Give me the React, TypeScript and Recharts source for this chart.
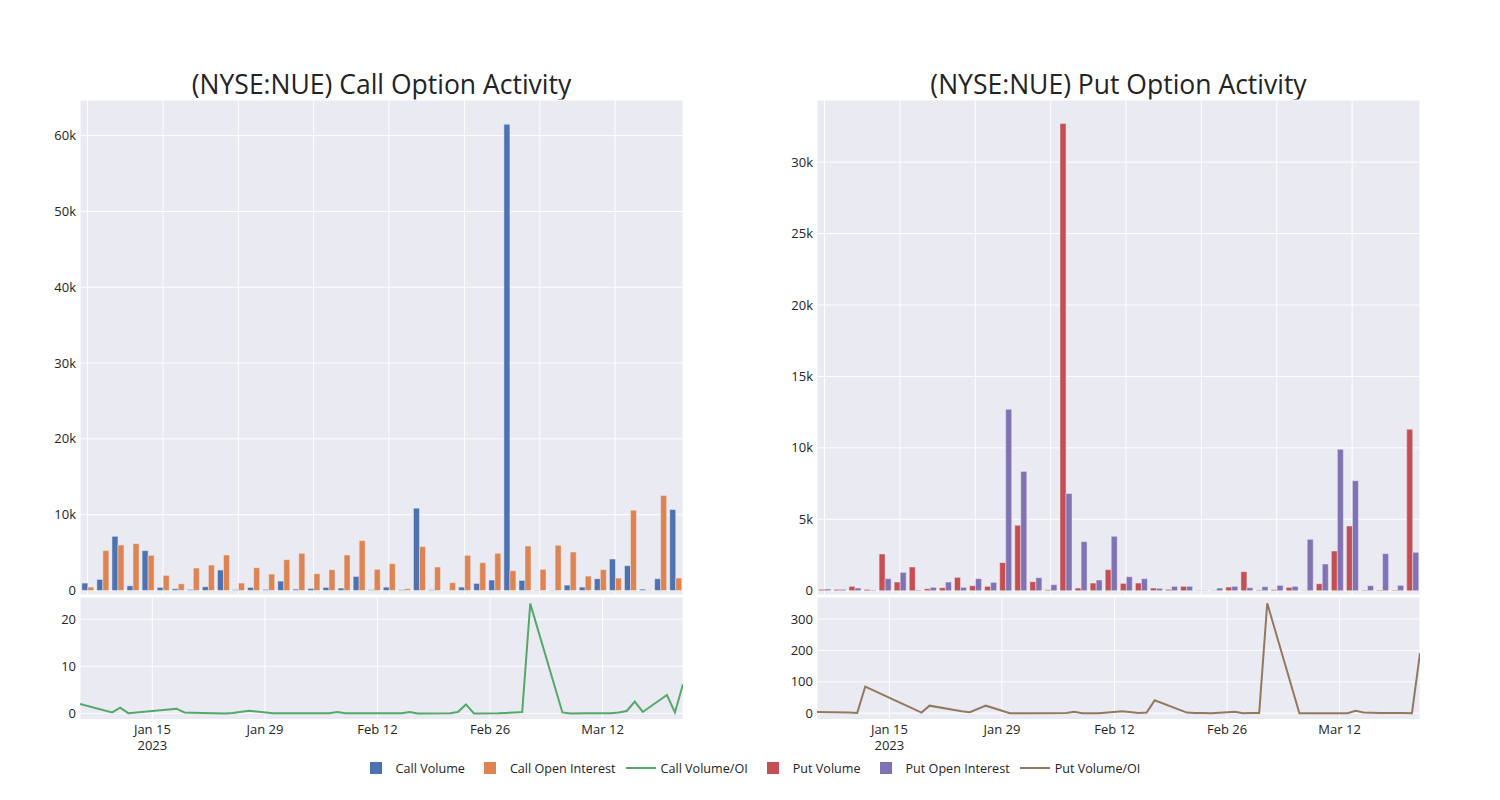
import React from 'react';
import { BarChart, Bar, LineChart, Line, XAxis, YAxis, CartesianGrid } from 'recharts';

const dates = [
  '2023-01-06', '2023-01-10', '2023-01-11', '2023-01-12', '2023-01-18', '2023-01-19', '2023-01-20', '2023-01-24',
  '2023-01-25', '2023-01-27', '2023-01-30', '2023-02-01', '2023-02-06', '2023-02-07', '2023-02-08', '2023-02-10',
  '2023-02-13', '2023-02-15', '2023-02-16', '2023-02-17', '2023-02-21', '2023-02-22', '2023-02-23', '2023-02-24',
  '2023-02-27', '2023-02-28', '2023-03-01', '2023-03-02', '2023-03-03', '2023-03-07', '2023-03-08', '2023-03-10',
  '2023-03-13', '2023-03-14', '2023-03-15', '2023-03-16', '2023-03-17', '2023-03-20', '2023-03-21', '2023-03-22',
];

const callVolume = [
  970, 1455, 7140, 617, 5250, 400, 220, 130, 485, 2690,
  90, 400, 130, 1235, 175, 265, 400, 310, 1850, 90,
  440, 90, 10850, 90, 20, 440, 925, 1370, 61500, 1325,
  50, 50, 705, 440, 1545, 4145, 3265, 175, 1545, 10670,
];
const callOpenInterest = [
  440, 5250, 6000, 6170, 4630, 1985, 880, 2955, 3350, 4675,
  970, 3000, 2160, 4060, 4900, 2205, 2735, 4675, 6570, 2780,
  3530, 220, 5780, 3090, 1015, 4630, 3660, 4900, 2600, 5865,
  2780, 5955, 5070, 1895, 2735, 1630, 10585, 40, 12530, 1630,
];
const callRatio = [
  2.0, 0.2, 1.2, 0.05, 1.0, 0.2, 0.15, 0.0, 0.1, 0.55,
  0.05, 0.05, 0.05, 0.3, 0.02, 0.03, 0.05, 0.05, 0.3, 0.0,
  0.05, 0.3, 1.9, 0.0, 0.02, 0.1, 0.2, 0.3, 23.3, 0.2,
  0.0, 0.02, 0.05, 0.2, 0.5, 2.5, 0.3, 3.9, 0.2, 6.2,
];

const putVolume = [
  93, 93, 304, 93, 2570, 607, 1660, 140, 210, 935,
  350, 304, 1963, 4580, 631, 70, 32700, 187, 537, 1472,
  514, 537, 187, 93, 304, 23, 23, 257, 1332, 47,
  70, 234, 23, 490, 2780, 4532, 47, 47, 47, 11300,
];
const putOpenInterest = [
  117, 93, 187, 47, 841, 1285, 47, 234, 607, 234,
  841, 584, 12700, 8350, 911, 420, 6800, 3435, 748, 3808,
  981, 841, 163, 304, 304, 23, 187, 304, 210, 280,
  374, 304, 3598, 1869, 9900, 7700, 350, 2594, 374, 2687,
];
const putRatio = [
  4, 2, 1, 85, 14, 2, 24, 6, 3, 24,
  0, 0, 0.5, 5, 0, 0, 6, 1, 2, 41,
  2, 1, 0.5, 0, 5, 0, 0.5, 1, 350, 0,
  0, 0, 0, 8, 2, 1.5, 1, 0.5, 0, 191,
];

const xTickDates = ['2023-01-15', '2023-01-29', '2023-02-12', '2023-02-26', '2023-03-12'];
const xTickLabels = ['Jan 15', 'Jan 29', 'Feb 12', 'Feb 26', 'Mar 12'];
const xTickSubLabels = ['2023', '', '', '', ''];

const callBarTicks = [0, 10000, 20000, 30000, 40000, 50000, 60000];
const putBarTicks = [0, 5000, 10000, 15000, 20000, 25000, 30000];
const callRatioTicks = [0, 10, 20];
const putRatioTicks = [0, 100, 200, 300];

const callBarDomain = [-600, 64700];
const putBarDomain = [-300, 34350];
const callRatioDomain = [-1.3, 24.7];
const putRatioDomain = [-20, 370];

const COLORS = {
  callVol: '#4C72B0',
  callOI: '#DD8452',
  callRatio: '#55A868',
  putVol: '#C44E52',
  putOI: '#8172B3',
  putRatio: '#937860',
  bg: '#EAEAF2',
  text: '#242424',
};
const FONT = '"Open Sans", "DejaVu Sans", sans-serif';

const toTs = (d: string) => Date.parse(d + 'T00:00:00Z');

const kFormat = (v: number) => (v === 0 ? '0' : `${v / 1000}k`);

const tickStyle = { fontSize: 13, fill: COLORS.text, fontFamily: FONT };

const EmptyTick = () => <g />;

const DateTick = (props: any) => {
  const { x, y, payload } = props;
  const idx = xTickDates.findIndex((d) => toTs(d) === payload.value);
  const label = idx >= 0 ? xTickLabels[idx] : '';
  const sub = idx >= 0 ? xTickSubLabels[idx] : '';
  return (
    <text x={x} y={y} textAnchor="middle" fill={COLORS.text} fontSize={13} fontFamily={FONT}>
      <tspan x={x} dy={14}>{label}</tspan>
      {sub ? <tspan x={x} dy={16}>{sub}</tspan> : null}
    </text>
  );
};

type PanelProps = {
  left: number;
  title: string;
  vol: number[];
  oi: number[];
  ratio: number[];
  volColor: string;
  oiColor: string;
  ratioColor: string;
  barTicks: number[];
  barDomain: number[];
  ratioTicks: number[];
  ratioDomain: number[];
  barFormat: (v: number) => string;
};

const Panel = (p: PanelProps) => {
  const barData = dates.map((d, i) => ({ date: d, vol: p.vol[i], oi: p.oi[i] }));
  const lineData = dates.map((d, i) => ({ t: toTs(d), r: p.ratio[i] }));
  const xDomain = [toTs(dates[0]), toTs(dates[dates.length - 1])];
  return (
    <>
      <div
        style={{
          position: 'absolute',
          left: p.left + 80,
          top: 66,
          width: 603,
          textAlign: 'center',
          fontFamily: FONT,
          fontSize: 26.5,
          lineHeight: '36px',
          color: COLORS.text,
          whiteSpace: 'nowrap',
        }}
      >
        {p.title}
      </div>
      <div style={{ position: 'absolute', left: p.left, top: 0 }}>
        <BarChart
          width={700}
          height={600}
          data={barData}
          margin={{ top: 100, right: 17, left: 0, bottom: 4 }}
          barGap={0}
          barCategoryGap="12%"
        >
          <CartesianGrid fill={COLORS.bg} stroke="#ffffff" strokeWidth={1} />
          <XAxis
            dataKey="date"
            type="category"
            interval={4}
            height={1}
            tick={<EmptyTick />}
            tickLine={false}
            axisLine={false}
          />
          <YAxis
            width={80}
            type="number"
            domain={p.barDomain}
            allowDataOverflow
            ticks={p.barTicks}
            tickFormatter={p.barFormat}
            tick={tickStyle}
            tickLine={false}
            axisLine={false}
            tickSize={0}
            tickMargin={4}
          />
          <Bar dataKey="vol" fill={p.volColor} stroke={COLORS.bg} strokeWidth={0.5} isAnimationActive={false} />
          <Bar dataKey="oi" fill={p.oiColor} stroke={COLORS.bg} strokeWidth={0.5} isAnimationActive={false} />
        </BarChart>
      </div>
      <div style={{ position: 'absolute', left: p.left, top: 590 }}>
        <LineChart
          width={700}
          height={180}
          data={lineData}
          margin={{ top: 7, right: 17, left: 0, bottom: 0 }}
        >
          <CartesianGrid fill={COLORS.bg} stroke="#ffffff" strokeWidth={1} />
          <XAxis
            dataKey="t"
            type="number"
            domain={xDomain}
            allowDataOverflow
            ticks={xTickDates.map(toTs)}
            tick={<DateTick />}
            tickLine={false}
            axisLine={false}
            tickSize={0}
            tickMargin={0}
            height={50.5}
            interval={0}
          />
          <YAxis
            width={80}
            type="number"
            domain={p.ratioDomain}
            allowDataOverflow
            ticks={p.ratioTicks}
            tick={tickStyle}
            tickLine={false}
            axisLine={false}
            tickSize={0}
            tickMargin={4}
          />
          <Line
            type="linear"
            dataKey="r"
            stroke={p.ratioColor}
            strokeWidth={2}
            dot={false}
            activeDot={false}
            isAnimationActive={false}
          />
        </LineChart>
      </div>
    </>
  );
};

const legendItems = [
  { label: 'Call Volume', color: COLORS.callVol, kind: 'bar' },
  { label: 'Call Open Interest', color: COLORS.callOI, kind: 'bar' },
  { label: 'Call Volume/OI', color: COLORS.callRatio, kind: 'line' },
  { label: 'Put Volume', color: COLORS.putVol, kind: 'bar' },
  { label: 'Put Open Interest', color: COLORS.putOI, kind: 'bar' },
  { label: 'Put Volume/OI', color: COLORS.putRatio, kind: 'line' },
];

const Legend = () => (
  <div
    style={{
      position: 'absolute',
      left: 0,
      top: 758,
      width: 1501,
      display: 'flex',
      justifyContent: 'center',
      fontFamily: FONT,
      fontSize: 12.6,
      color: COLORS.text,
      height: 20,
      alignItems: 'center',
    }}
  >
    {legendItems.map((it) => (
      <div key={it.label} style={{ display: 'flex', alignItems: 'center', marginRight: 5 }}>
        <div style={{ width: 40, height: 20, display: 'flex', alignItems: 'center', justifyContent: 'center' }}>
          {it.kind === 'bar' ? (
            <div style={{ width: 12, height: 12, background: it.color }} />
          ) : (
            <div style={{ width: 30, height: 2, background: it.color }} />
          )}
        </div>
        <span style={{ whiteSpace: 'nowrap' }}>{it.label}</span>
      </div>
    ))}
  </div>
);

export default function App() {
  return (
    <div style={{ position: 'absolute', left: 0, top: 0, width: 1500, height: 800, background: '#ffffff', overflow: 'hidden' }}>
      <Panel
        left={0}
        title="(NYSE:NUE) Call Option Activity"
        vol={callVolume}
        oi={callOpenInterest}
        ratio={callRatio}
        volColor={COLORS.callVol}
        oiColor={COLORS.callOI}
        ratioColor={COLORS.callRatio}
        barTicks={callBarTicks}
        barDomain={callBarDomain}
        ratioTicks={callRatioTicks}
        ratioDomain={callRatioDomain}
        barFormat={kFormat}
      />
      <Panel
        left={737}
        title="(NYSE:NUE) Put Option Activity"
        vol={putVolume}
        oi={putOpenInterest}
        ratio={putRatio}
        volColor={COLORS.putVol}
        oiColor={COLORS.putOI}
        ratioColor={COLORS.putRatio}
        barTicks={putBarTicks}
        barDomain={putBarDomain}
        ratioTicks={putRatioTicks}
        ratioDomain={putRatioDomain}
        barFormat={kFormat}
      />
      <Legend />
    </div>
  );
}
